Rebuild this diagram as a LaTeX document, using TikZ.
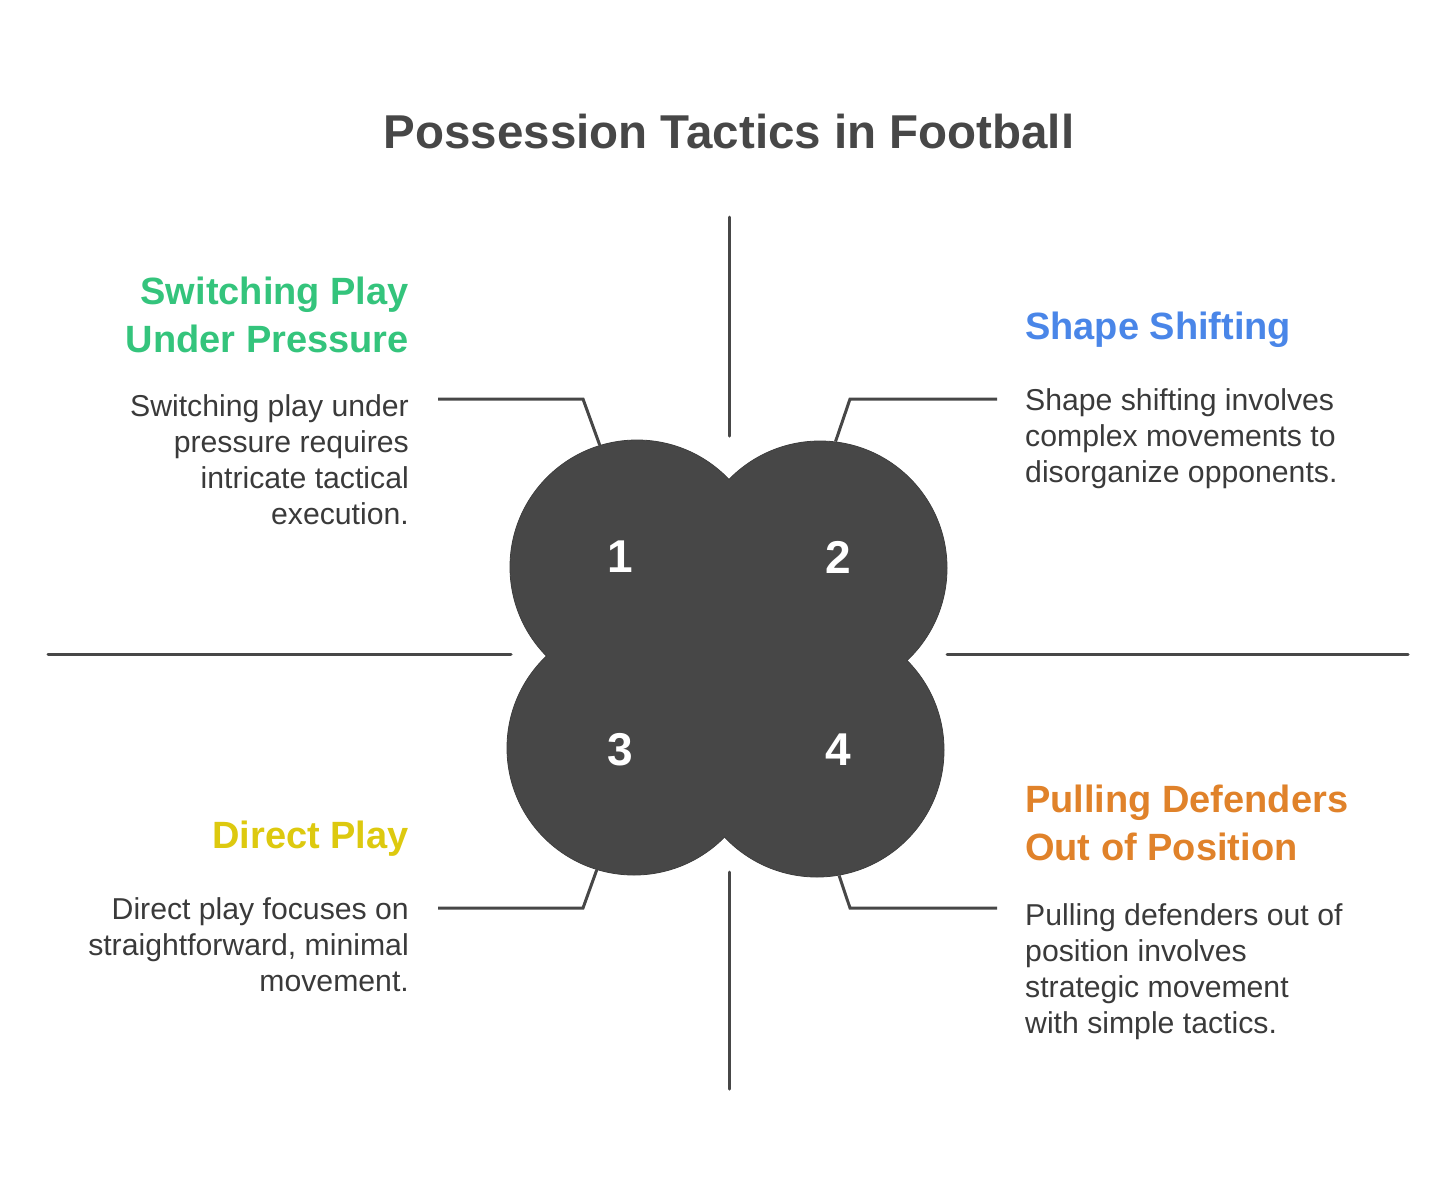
\documentclass[tikz,border=0pt]{standalone}
\usepackage{fontspec}
\setmainfont{Liberation Sans}
\usetikzlibrary{positioning, calc}
\definecolor{cdark} {RGB}{ 71, 71, 71}
\definecolor{cedge} {RGB}{ 60, 60, 60}
\definecolor{btxt}  {RGB}{ 58, 58, 58}
\definecolor{sgrn}  {RGB}{ 52,196,124}
\definecolor{sblue} {RGB}{ 74,134,232}
\definecolor{syel}  {RGB}{221,201, 15}
\definecolor{sorng} {RGB}{224,130, 42}
\tikzset{
  % Quadrant circle
  CIR/.style={circle,draw=cedge,fill=cdark,minimum size=254pt,
              inner sep=0pt,line width=0.8pt},
  % White number
  NUM/.style={text=white,font=\fontsize{46}{46}\selectfont\bfseries,
              inner sep=0pt},
  % Coloured heading
  HD/.style={text=#1,font=\fontsize{38}{48}\selectfont\bfseries,
             inner sep=0pt},
  % Body text
  BT/.style={text=btxt,font=\fontsize{30.2}{36}\selectfont,inner sep=0pt},
  % Lines
  Ax/.style ={draw=cdark,line width=3pt,line cap=round},
  Ld/.style ={draw=cdark,line width=3pt,line join=miter},
}
\begin{document}
\begin{tikzpicture}[x=1pt,y=-1pt]
  \useasboundingbox (0,0) rectangle (1456,1187);
  % title
  \node[text=cdark,font=\fontsize{47.5}{47.5}\selectfont\bfseries,
        inner sep=0pt,anchor=north] (title) at (729,114)
        {Possession Tactics in Football};
  % quadrant axes
  \coordinate (at) at (729,217);  \coordinate (ab) at (729,436);
  \coordinate (bt) at (729,872);  \coordinate (bb) at (729,1089);
  \coordinate (ll) at (48,654);   \coordinate (lr) at (511,654);
  \coordinate (rl) at (947,654);  \coordinate (rr) at (1408,654);
  \draw[Ax] (at)--(ab);
  \draw[Ax] (bt)--(bb);
  \draw[Ax] (ll)--(lr);
  \draw[Ax] (rl)--(rr);
  % circles
  \node[CIR] (c1) at (637,567) {};
  \node[CIR] (c2) at (820,568) {};
  \node[CIR] (c3) at (634,748) {};
  \node[CIR] (c4) at (817,750) {};
  \foreach \c in {c1,c2,c3,c4}
    \fill[cdark] (\c.center) circle (126.4);
  \fill[cdark] (c1.center) -- (c2.center) -- (c4.center) -- (c3.center) -- cycle;
  \node[NUM] (n1) at (620,557) {1};
  \node[NUM] (n2) at (838,557) {2};
  \node[NUM] (n3) at (620,750) {3};
  \node[NUM] (n4) at (838,750) {4};
  % quadrant 1
  \node[HD=sgrn,anchor=north east,align=right] (h1) at (409,277)
        {Switching Play\\Under Pressure};
  \node[BT,anchor=north east,align=right] (t1) at (409,394)
        {Switching play under\\pressure requires\\intricate tactical\\execution.};
  \coordinate (l1) at (438,399);
  \draw[Ld] (l1) -- ++(145,0) -- (c1.107);
  % quadrant 2
  \node[HD=sblue,anchor=north west,align=left] (h2) at (1025,312)
        {Shape Shifting};
  \node[BT,anchor=north west,align=left] (t2) at (1025,388)
        {Shape shifting involves\\complex movements to\\disorganize opponents.};
  \coordinate (l2) at (997,399);
  \draw[Ld] (l2) -- ++(-147,0) -- (c2.83);
  % quadrant 3
  \node[HD=syel,anchor=north east,align=right] (h3) at (409,821)
        {Direct Play};
  \node[BT,anchor=north east,align=right] (t3) at (409,897)
        {Direct play focuses on\\straightforward, minimal\\movement.};
  \coordinate (l3) at (438,908);
  \draw[Ld] (l3) -- ++(145,0) -- (c3.253);
  % quadrant 4
  \node[HD=sorng,anchor=north west,align=left] (h4) at (1025,785)
        {Pulling Defenders\\Out of Position};
  \node[BT,anchor=north west,align=left] (t4) at (1025,903)
        {Pulling defenders out of\\position involves\\strategic movement\\with simple tactics.};
  \coordinate (l4) at (997,908);
  \draw[Ld] (l4) -- ++(-147,0) -- (c4.280);
\end{tikzpicture}
\end{document}
